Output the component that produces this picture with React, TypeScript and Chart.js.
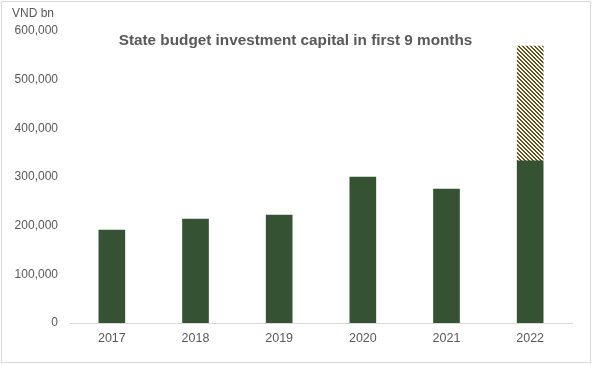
import React, { useEffect, useRef } from "react";
import { Chart, registerables } from "chart.js";

Chart.register(...registerables);

const categories = ["2017", "2018", "2019", "2020", "2021", "2022"];
const actualValues = [191000, 213700, 222000, 300000, 275000, 333000];
const planRemainder = [null, null, null, null, null, 236000];
const yTicks = [0, 100000, 200000, 300000, 400000, 500000, 600000];
const titleText = "State budget investment capital in first 9 months";
const unitText = "VND bn";

const FONT = "'Liberation Sans', Arial, sans-serif";
const TEXT = "#595959";
const GREEN = "#355233";
const BROWN = [0x70, 0x52, 0x14];

function makeHatch(): CanvasPattern | string {
  const c = document.createElement("canvas");
  c.width = 4;
  c.height = 4;
  const cx = c.getContext("2d");
  if (!cx) return "#705214";
  const img = cx.createImageData(4, 4);
  for (let y = 0; y < 4; y++) {
    for (let x = 0; x < 4; x++) {
      const i = (y * 4 + x) * 4;
      const on = ((x - y) % 4 + 4) % 4 < 2;
      img.data[i] = on ? BROWN[0] : 255;
      img.data[i + 1] = on ? BROWN[1] : 255;
      img.data[i + 2] = on ? BROWN[2] : 255;
      img.data[i + 3] = 255;
    }
  }
  cx.putImageData(img, 0, 0);
  const p = cx.createPattern(c, "repeat");
  return p || "#705214";
}

const decorPlugin = {
  id: "decor",
  afterDraw(chart: any) {
    const ctx = chart.ctx;
    ctx.save();
    ctx.strokeStyle = "#d9d9d9";
    ctx.lineWidth = 1;
    ctx.strokeRect(1.5, 1.5, 589, 361);
    ctx.fillStyle = TEXT;
    ctx.font = `12px ${FONT}`;
    ctx.textAlign = "left";
    ctx.textBaseline = "alphabetic";
    ctx.fillText(unitText, 12, 17);
    ctx.font = `bold 15.3px ${FONT}`;
    ctx.textAlign = "center";
    ctx.textBaseline = "alphabetic";
    ctx.fillText(titleText, 295.5, 45);
    ctx.restore();
  },
};

export default function App() {
  const ref = useRef<HTMLCanvasElement>(null);
  useEffect(() => {
    if (!ref.current) return;
    const hatch = makeHatch();
    const chart = new Chart(ref.current, {
      type: "bar",
      data: {
        labels: categories,
        datasets: [
          { label: "Actual", data: actualValues, backgroundColor: GREEN, barThickness: 26 },
          { label: "Plan", data: planRemainder as any, backgroundColor: hatch as any, barThickness: 26 },
        ],
      },
      options: {
        animation: false,
        responsive: false,
        maintainAspectRatio: false,
        layout: { padding: { top: 31, right: 21, left: 0, bottom: 0 } },
        plugins: { legend: { display: false }, tooltip: { enabled: false }, title: { display: false } },
        scales: {
          x: {
            stacked: true,
            grid: { display: false, drawTicks: false },
            border: { display: true, color: "#d9d9d9", width: 1 },
            ticks: { color: TEXT, font: { family: FONT, size: 12.5 }, padding: 8, maxRotation: 0 },
            afterFit: (s: any) => { s.height = 42; },
          },
          y: {
            stacked: true,
            min: 0,
            max: 600000,
            grid: { display: false, drawTicks: false },
            border: { display: false },
            afterBuildTicks: (s: any) => { s.ticks = yTicks.map((v) => ({ value: v })); },
            ticks: {
              color: TEXT,
              font: { family: FONT, size: 12 },
              padding: 12,
              callback: (v: any) => Number(v).toLocaleString("en-US"),
            },
            afterFit: (s: any) => { s.width = 70; },
          },
        },
      },
      plugins: [decorPlugin],
    });
    return () => chart.destroy();
  }, []);
  return (
    <div style={{ position: "fixed", left: 0, top: 0, width: 593, height: 365, background: "#fff" }}>
      <canvas ref={ref} width={593} height={365} style={{ display: "block" }} />
    </div>
  );
}
